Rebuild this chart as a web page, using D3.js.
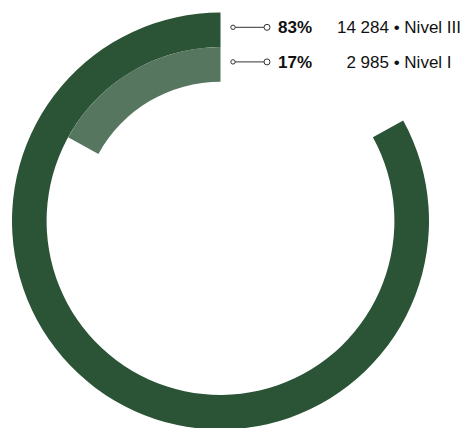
<!DOCTYPE html>
<html>
<head>
<meta charset="utf-8">
<script src="https://cdn.jsdelivr.net/npm/d3@7"></script>
<style>
  html, body { margin: 0; padding: 0; background: #fff; }
  svg { display: block; }
  text { font-family: "Liberation Sans", Arial, Helvetica, sans-serif; }
</style>
</head>
<body>
<svg id="chart" width="464" height="428"></svg>
<script>
const categories = ["Nivel III", "Nivel I"];
const percents = [83, 17];
const counts = ["14 284", "2 985"];
const colors = ["#2b5335", "#567660"];

const width = 464, height = 428;
const cx = 220.5, cy = 221;
const outerR = 208.5, innerR = 139.3;

const svg = d3.select("#chart");
const g = svg.append("g").attr("transform", `translate(${cx},${cy})`);

const r = d3.scaleBand().domain(categories).range([outerR, innerR]).padding(0);
const angle = d3.scaleLinear().domain([0, 100]).range([0, -2 * Math.PI]);

const arc = d3.arc()
  .innerRadius(d => r(d.cat))
  .outerRadius(d => r(d.cat) + r.bandwidth())
  .startAngle(0)
  .endAngle(d => angle(d.pct));

const data = categories.map((c, i) => ({ cat: c, pct: percents[i], count: counts[i], color: colors[i] }));

g.selectAll("path.bar")
  .data(data)
  .join("path")
  .attr("class", "bar")
  .attr("d", arc)
  .attr("fill", d => d.color);

// legend labels
const lab = svg.append("g");
const rowY = d => cy - (r(d.cat) + r.bandwidth() / 2) - 2.5;

const rows = lab.selectAll("g.row").data(data).join("g").attr("class", "row")
  .attr("transform", d => `translate(0,${rowY(d)})`);

rows.append("line")
  .attr("x1", 235).attr("x2", 264)
  .attr("y1", 0).attr("y2", 0)
  .attr("stroke", "#333").attr("stroke-width", 1);
rows.append("circle")
  .attr("cx", 233).attr("cy", 0).attr("r", 2.2)
  .attr("fill", "#fff").attr("stroke", "#333").attr("stroke-width", 1);
rows.append("circle")
  .attr("cx", 267).attr("cy", 0).attr("r", 3)
  .attr("fill", "#fff").attr("stroke", "#333").attr("stroke-width", 1);

rows.append("text")
  .attr("x", 278).attr("y", 0).attr("dy", "0.36em")
  .attr("font-size", 17).attr("font-weight", "bold").attr("fill", "#111")
  .text(d => d.pct + "%");

rows.append("text")
  .attr("x", 399).attr("y", 0).attr("dy", "0.36em")
  .attr("text-anchor", "middle")
  .attr("font-size", 17).attr("fill", "#111")
  .text(d => d.count + " \u2022 " + d.cat);
</script>
</body>
</html>
